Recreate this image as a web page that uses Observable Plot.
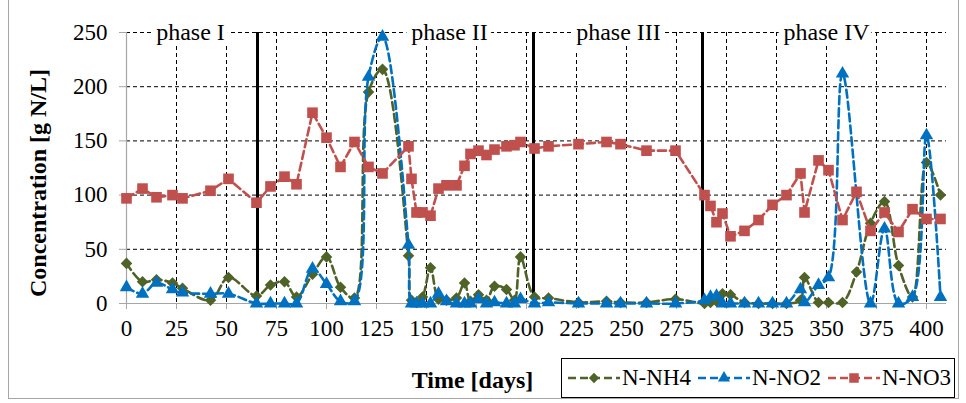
<!DOCTYPE html>
<html><head><meta charset="utf-8">
<script src="https://cdn.jsdelivr.net/npm/d3@7"></script>
<script src="https://cdn.jsdelivr.net/npm/@observablehq/plot@0.6"></script>
<style>
body{margin:0;background:#fff;}
#wrap{position:relative;width:966px;height:403px;font-family:"Liberation Serif","Times New Roman",serif;}
#frame{position:absolute;left:8px;top:0;width:951px;height:399px;border:1px solid #a6a6a6;border-top:none;pointer-events:none;box-sizing:border-box}
#legend{position:absolute;left:561px;top:358px;width:394px;height:40px;border:1px solid #000;box-sizing:border-box;display:flex;align-items:center;justify-content:space-between;padding:0 3px 0 4px;font-size:23px;background:#fff}
.item{display:flex;align-items:center;}
</style></head>
<body><div id="wrap"><div id="chart"></div><div id="frame"></div><div id="legend"></div></div>
<script>
// ---- data ----
const days = [0, 8, 15, 23, 28, 42, 51, 65, 72, 79, 85, 93, 100, 107, 114, 121, 128, 141, 142.5, 145, 148, 152, 156, 160, 165, 169, 172, 176, 180, 184, 190, 194, 197, 204, 211, 226, 240, 247, 260, 274.5, 289, 292, 295, 298, 302, 309, 316, 323, 330, 337, 339, 346, 351, 358, 365, 372, 379, 386, 393, 400, 407];
const nh4 = [37, 20, 22, 19, 14, 3, 24, 7, 17, 20, 6, 27, 43, 15, 5, 195, 216, 44, 3, 1, 6, 33, 4, 3, 5, 19, 2, 8, 3, 16, 13, 3, 43, 6, 5, 1, 2, 1, 1, 4, 0, 1, 2, 9, 8, 1, 0, 0, 0, 3, 24, 1, 1, 1, 29, 74, 94, 35, 6, 130, 100];
const no2 = [15, 9, 19, 13, 10, 9, 9, 0, 0, 0, 0, 32, 18, 2, 2, 209, 246, 54, 0, 0, 0, 0, 9, 2, 0, 0, 0, 4, 0, 1, 0, 0, 4, 0, 1, 0, 0, 0, 0, 0, 3, 6, 7, 0, 0, 0, 0, 0, 0, 13, 1, 17, 24, 212, null, 0, 69, 0, 6, 155, 6];
const no3 = [97, 106, 98, 100, 97, 104, 115, 93, 108, 117, 110, 176, 153, 126, 149, 126, 120, 145, 115, 84, 84, 81, 106, 109, 109, 127, 138, 141, 137, 142, 145, 146, 149, 143, 145, 147, 149, 147, 141, 141, 100, 90, 75, 83, 62, 67, 77, 91, 100, 120, 84, 132, 123, 77, 103, 67, 84, 66, 87, 78, 78];
const seriesNames = ["N-NH4", "N-NO2", "N-NO3"];
const phaseBounds = [65.5, 203.5, 288];
const phaseLabels = ["phase I", "phase II", "phase III", "phase IV"];
const phaseLabelDays = [32, 161.5, 246, 350];
const xTicks = [0, 25, 50, 75, 100, 125, 150, 175, 200, 225, 250, 275, 300, 325, 350, 375, 400];
const yTicks = [0, 50, 100, 150, 200, 250];
const xTitle = "Time [days]";
const yTitle = "Concentration [g N/L]";

// ---- styles ----
const colors = ["#4f6228", "#0070c0", "#c0504d"];
const symbols = ["diamond2", "triangle", "square"];
const radii = [5.2, 5, 6];
const curves = ["catmull-rom", "catmull-rom", "linear"];

const series = [nh4, no2, no3].map((vals, i) =>
  days.map((d, j) => ({series: seriesNames[i], day: d, value: vals[j]})).filter(r => r.value != null));
const phases = phaseLabels.map((t, i) => ({label: t, day: phaseLabelDays[i]}));

const seriesMarks = series.flatMap((rows, i) => [
  Plot.line(rows, {x: "day", y: "value", stroke: colors[i], strokeWidth: 2.6, strokeDasharray: "8,4", curve: curves[i]}),
  Plot.dot(rows, {x: "day", y: "value", symbol: () => symbols[i], fill: colors[i], r: radii[i], stroke: "none"})
]);

const chart = Plot.plot({
  width: 966, height: 403,
  marginLeft: 126, marginRight: 20, marginTop: 32, marginBottom: 100,
  x: {domain: [0, 410]},
  y: {domain: [0, 250]},
  symbol: {type: "identity"},
  style: {fontFamily: "'Liberation Serif','Times New Roman',serif", fontSize: "23px", background: "transparent", color: "#000"},
  marks: [
    Plot.gridY(yTicks.filter(d => d > 0), {stroke: "#000", strokeOpacity: 1, strokeDasharray: "4,3"}),
    Plot.gridX(xTicks.filter(d => d > 0), {stroke: "#000", strokeOpacity: 1, strokeDasharray: "4,3"}),
    Plot.ruleX(phaseBounds, {stroke: "#000", strokeWidth: 3}),
    Plot.ruleY([0], {stroke: "#a6a6a6", strokeWidth: 1.2}),
    Plot.ruleX([0], {stroke: "#a6a6a6", strokeWidth: 1.2}),
    Plot.axisX({ticks: xTicks, tickSize: 6, tickPadding: 10, stroke: "#a6a6a6", label: null}),
    Plot.axisY({ticks: yTicks, tickSize: 7, tickPadding: 12, stroke: "#a6a6a6", label: null}),
    Plot.text(phases, {x: "day", frameAnchor: "top", text: "label", lineAnchor: "middle", fontSize: 24, fill: "#000", stroke: "#fff", strokeWidth: 12}),
    ...seriesMarks,
    Plot.text([yTitle], {frameAnchor: "left", textAnchor: "middle", rotate: -90, dx: -88, dy: 15, fontWeight: "bold", fontSize: 24, lineAnchor: "middle"}),
    Plot.text([xTitle], {frameAnchor: "bottom", dx: -64, dy: 77, fontWeight: "bold", fontSize: 24, lineAnchor: "middle"})
  ]
});
document.getElementById("chart").appendChild(chart);

// ---- legend ----
const symFns = {diamond2: d3.symbolDiamond2, triangle: d3.symbolTriangle, square: d3.symbolSquare};
const legend = d3.select("#legend");
seriesNames.forEach((name, i) => {
  const item = legend.append("div").attr("class", "item");
  const svg = item.append("svg").attr("width", 56).attr("height", 20);
  svg.append("line").attr("x1", 2).attr("x2", 54).attr("y1", 10).attr("y2", 10)
    .attr("stroke", colors[i]).attr("stroke-width", 2.6).attr("stroke-dasharray", "8,4");
  svg.append("path").attr("transform", "translate(28,10)")
    .attr("d", d3.symbol(symFns[symbols[i]], Math.PI * radii[i] * radii[i] * 0.8)())
    .attr("fill", colors[i]);
  item.append("span").text(name);
});
</script>
</body></html>
